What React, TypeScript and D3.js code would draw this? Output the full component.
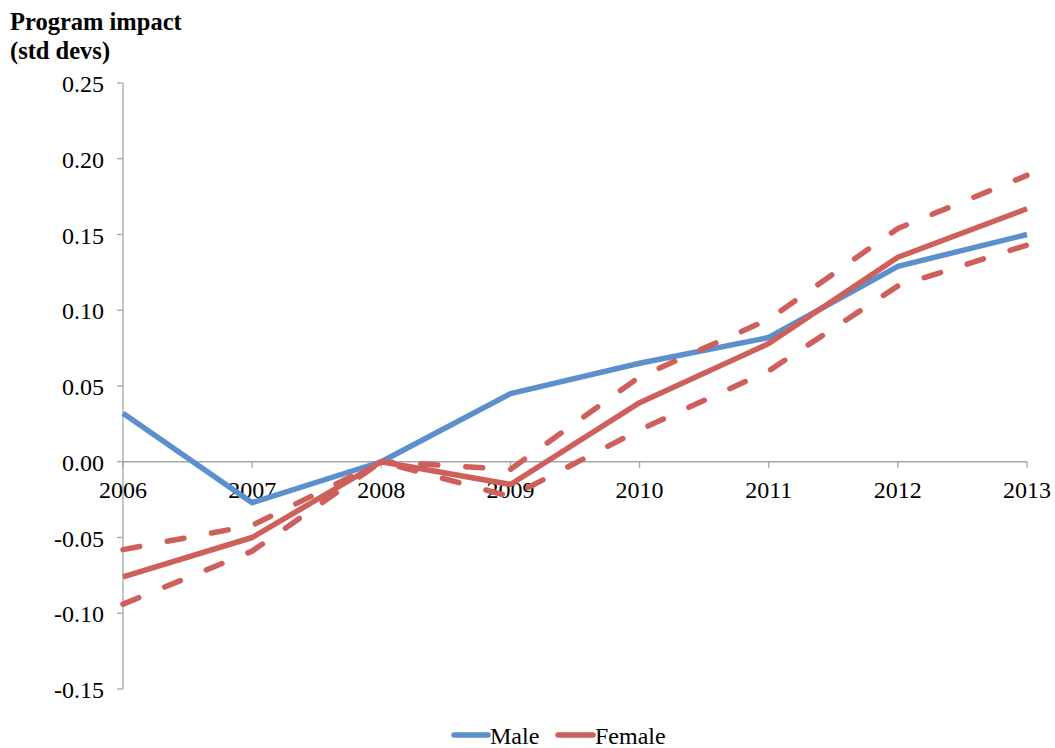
import React from "react";
import * as d3 from "d3";

const years = ["2006", "2007", "2008", "2009", "2010", "2011", "2012", "2013"];
const male = [0.032, -0.027, 0.0, 0.045, 0.065, 0.082, 0.129, 0.15];
const female = [-0.076, -0.05, 0.0, -0.015, 0.039, 0.078, 0.135, 0.167];
const femaleUpper = [-0.058, -0.042, 0.0, -0.005, 0.056, 0.094, 0.154, 0.189];
const femaleLower = [-0.094, -0.059, 0.0, -0.023, 0.021, 0.06, 0.116, 0.143];
const yTicks = [0.25, 0.2, 0.15, 0.1, 0.05, 0.0, -0.05, -0.1, -0.15];

const W = 1055;
const H = 748;
const BLUE = "#5B90CC";
const RED = "#CF5F5B";
const AXIS = "#A6A6A6";
const FONT = "Liberation Serif, Times New Roman, Tinos, DejaVu Serif, serif";
const FS = 24;
const LW = 5.5;

export default function App() {
  const x = d3.scalePoint<string>().domain(years).range([123, 1027]).padding(0);
  const y = d3.scaleLinear().domain([-0.15, 0.25]).range([689, 83]);

  const line = d3
    .line<number>()
    .x((_, i) => x(years[i]) as number)
    .y((d) => y(d));

  const series = [
    { values: male, color: BLUE, dash: undefined as string | undefined },
    { values: female, color: RED, dash: undefined },
    { values: femaleUpper, color: RED, dash: "17 28" },
    { values: femaleLower, color: RED, dash: "17 28" },
  ];

  const zeroY = y(0);
  const txt = { fontFamily: FONT };

  return (
    <svg
      width={W}
      height={H}
      style={{ position: "absolute", left: 0, top: 0, background: "#fff", fontFamily: FONT }}
    >
      <rect width={W} height={H} fill="#fff" />
      <text x={10} y={30} fontSize={24.5} fontWeight="bold" style={txt}>
        Program impact
      </text>
      <text x={10} y={59} fontSize={24.5} fontWeight="bold" style={txt}>
        (std devs)
      </text>

      {/* value axis */}
      <line x1={123} x2={123} y1={y(0.25)} y2={y(-0.15)} stroke={AXIS} strokeWidth={1.3} />
      {yTicks.map((t) => (
        <g key={t}>
          <line x1={117} x2={123} y1={y(t)} y2={y(t)} stroke={AXIS} strokeWidth={1.3} />
          <text
            x={104}
            y={y(t) + 9}
            textAnchor="end"
            fontSize={FS}
            fill="#000"
            style={txt}
          >
            {d3.format(".2f")(t).replace("−", "-")}
          </text>
        </g>
      ))}

      {/* category axis along zero */}
      <line x1={123} x2={1027} y1={zeroY} y2={zeroY} stroke={AXIS} strokeWidth={1.3} />
      {years.map((yr) => (
        <g key={yr}>
          <line
            x1={x(yr)}
            x2={x(yr)}
            y1={zeroY}
            y2={zeroY + 6}
            stroke={AXIS}
            strokeWidth={1.3}
          />
          <text x={x(yr)} y={zeroY + 36} textAnchor="middle" fontSize={FS} fill="#000" style={txt}>
            {yr}
          </text>
        </g>
      ))}

      {series.map((s, i) => (
        <path
          key={i}
          d={line(s.values) || ""}
          fill="none"
          stroke={s.color}
          strokeWidth={LW}
          strokeDasharray={s.dash}
          strokeLinecap={s.dash ? "round" : "butt"}
          strokeLinejoin="round"
        />
      ))}

      {/* legend */}
      <line x1={454} x2={488} y1={735} y2={735} stroke={BLUE} strokeWidth={LW} strokeLinecap="round" />
      <text x={490} y={744} fontSize={FS} style={txt}>
        Male
      </text>
      <line x1={558} x2={593} y1={735} y2={735} stroke={RED} strokeWidth={LW} strokeLinecap="round" />
      <text x={595} y={744} fontSize={FS} style={txt}>
        Female
      </text>
    </svg>
  );
}
